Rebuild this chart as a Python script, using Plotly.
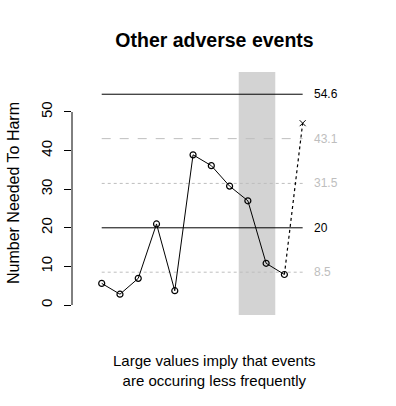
import plotly.graph_objects as go

# Data
obs_index = list(range(1, 12))
nnh_values = [5.6, 2.8, 6.9, 21.0, 3.7, 38.9, 36.1, 30.8, 27.0, 10.8, 7.9]
predicted_index = 12
predicted_value = 47.1
shade_start, shade_end = 8.5, 10.5
ref_values = [54.6, 43.1, 31.5, 20.0, 8.5]
ref_labels = ["54.6", "43.1", "31.5", "20", "8.5"]
ref_colors = ["black", "#bebebe", "#bebebe", "black", "#bebebe"]
ref_dash = ["solid", "dash", "dot", "solid", "dot"]
y_ticks = [0, 10, 20, 30, 40, 50]
line_start, line_end = 1, 12

FONT = "Liberation Sans, Arial, sans-serif"

W, H = 396, 406
L, R, T, B = 72, 44, 72, 91
PW, PH = W - L - R, H - T - B

fig = go.Figure()

for v, c, d in zip(ref_values, ref_colors, ref_dash):
    fig.add_trace(go.Scatter(x=[line_start, line_end], y=[v, v], mode="lines",
                             line=dict(color=c, width=1, dash=d), showlegend=False,
                             hoverinfo="skip"))

fig.add_trace(go.Scatter(x=[obs_index[-1], predicted_index], y=[nnh_values[-1], predicted_value],
                         mode="lines", line=dict(color="black", width=1.2, dash="dot"),
                         showlegend=False))
fig.add_trace(go.Scatter(x=[predicted_index], y=[predicted_value], mode="markers",
                         marker=dict(symbol="x-thin-open", size=6, color="black",
                                     line=dict(color="black", width=1)),
                         showlegend=False))

fig.add_trace(go.Scatter(x=obs_index, y=nnh_values, mode="lines+markers",
                         line=dict(color="black", width=1),
                         marker=dict(symbol="circle-open", size=6, color="black",
                                     line=dict(color="black", width=1.2)),
                         showlegend=False))

fig.add_shape(type="rect", xref="x", yref="paper", x0=shade_start, x1=shade_end, y0=0, y1=1,
              fillcolor="#d3d3d3", line=dict(width=0), layer="below")

fig.add_shape(type="line", xref="paper", yref="y", x0=0, x1=0, y0=y_ticks[0], y1=y_ticks[-1],
              line=dict(color="black", width=1))

for v, lab, c in zip(ref_values, ref_labels, ref_colors):
    fig.add_annotation(x=12.5, y=v, xref="x", yref="y", text=lab, showarrow=False,
                       xanchor="left", yanchor="middle",
                       font=dict(family=FONT, size=12, color=c))

fig.add_annotation(x=(13 - L) / PW, y=(T + PH - 193) / PH, xref="paper", yref="paper",
                   text="Number Needed To Harm",
                   showarrow=False, textangle=-90, xanchor="center", yanchor="middle",
                   font=dict(family=FONT, size=16, color="black"))

fig.add_annotation(x=(214 - L) / PW, y=(T + PH - 370) / PH, xref="paper", yref="paper",
                   text="Large values imply that events<br>are occuring less frequently",
                   showarrow=False, xanchor="center", yanchor="middle",
                   font=dict(family=FONT, size=15, color="black"))

fig.update_layout(
    width=W, height=H,
    margin=dict(l=L, r=R, t=T, b=B),
    paper_bgcolor="white", plot_bgcolor="white",
    title=dict(text="<b>Other adverse events</b>", x=214.5 / W, xref="container",
               xanchor="center", y=1 - 40 / H, yref="container", yanchor="middle",
               font=dict(family=FONT, size=19.5, color="black")),
    xaxis=dict(range=[-0.626, 14.70], visible=False, showgrid=False, zeroline=False),
    yaxis=dict(range=[-2.59, 60.36], tickvals=y_ticks, ticks="outside", ticklen=7,
               tickcolor="black", tickwidth=1, showline=False, showgrid=False,
               zeroline=False, tickangle=-90, ticklabelstandoff=6,
               tickfont=dict(family=FONT, size=15, color="black")),
    showlegend=False,
)

fig.write_html("out.html", config={"displayModeBar": False},
               post_script="document.body.style.margin='0';document.body.style.overflow='hidden';")
